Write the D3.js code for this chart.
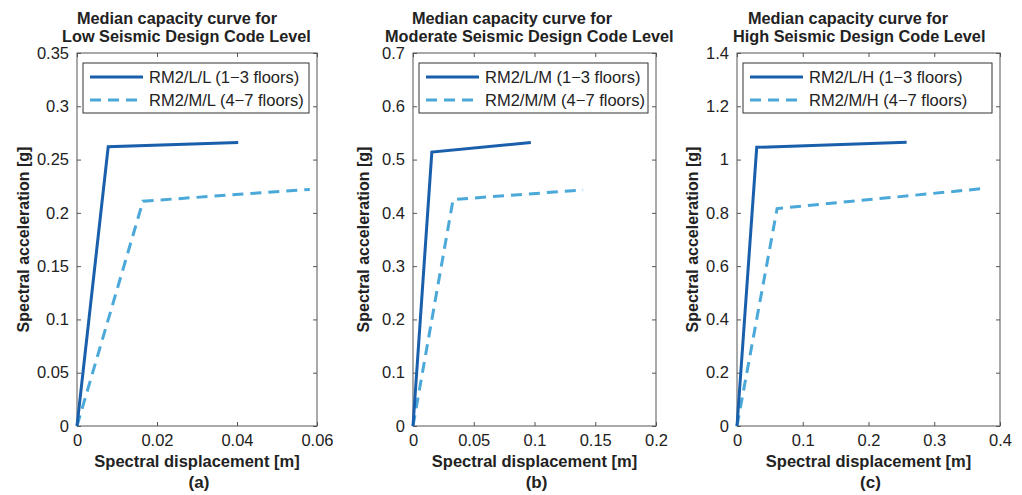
<!DOCTYPE html>
<html>
<head>
<meta charset="utf-8">
<script src="https://cdn.jsdelivr.net/npm/d3@7"></script>
<style>
  html, body { margin: 0; padding: 0; background: #fff; }
  svg { display: block; font-family: "Liberation Sans", Arial, sans-serif; }
</style>
</head>
<body>
<svg id="chart" width="1022" height="495"></svg>
<script>
// Median capacity curves (spectral displacement [m], spectral acceleration [g])
const panelTags = ["(a)", "(b)", "(c)"];
const titleFirstLine = "Median capacity curve for";
const titleSecondLines = [
  "Low Seismic Design Code Level",
  "Moderate Seismic Design Code Level",
  "High Seismic Design Code Level"
];
const xDomainMax = [0.06, 0.2, 0.4];
const yDomainMax = [0.35, 0.7, 1.4];
const xTickValues = [
  [0, 0.02, 0.04, 0.06],
  [0, 0.05, 0.1, 0.15, 0.2],
  [0, 0.1, 0.2, 0.3, 0.4]
];
const yTickValues = [
  [0, 0.05, 0.1, 0.15, 0.2, 0.25, 0.3, 0.35],
  [0, 0.1, 0.2, 0.3, 0.4, 0.5, 0.6, 0.7],
  [0, 0.2, 0.4, 0.6, 0.8, 1, 1.2, 1.4]
];
const lowRiseNames = ["RM2/L/L (1\u22123 floors)", "RM2/L/M (1\u22123 floors)", "RM2/L/H (1\u22123 floors)"];
const midRiseNames = ["RM2/M/L (4\u22127 floors)", "RM2/M/M (4\u22127 floors)", "RM2/M/H (4\u22127 floors)"];
// yield point and ultimate point of each bilinear curve
const lowRiseCurves = [
  [[0, 0], [0.0078, 0.262], [0.0403, 0.266]],
  [[0, 0], [0.0155, 0.514], [0.097, 0.532]],
  [[0, 0], [0.030, 1.046], [0.258, 1.065]]
];
const midRiseCurves = [
  [[0, 0], [0.0165, 0.211], [0.0582, 0.222]],
  [[0, 0], [0.033, 0.425], [0.140, 0.443]],
  [[0, 0], [0.061, 0.816], [0.373, 0.891]]
];

const svg = d3.select("#chart");
const solidColor = "#1a5fab";
const dashColor = "#4aa9d9";
const axisColor = "#555";
const textColor = "#222";

// plot boxes for the three panels
const boxes = [
  { left: 77, right: 317, t1x: 77, t2x: 62, ylab: 29 },
  { left: 413, right: 656, t1x: 412, t2x: 385, ylab: 369 },
  { left: 737, right: 1000, t1x: 748, t2x: 733, ylab: 698 }
];
const plotTop = 53, plotBottom = 426;
const fmt = d => String(+d.toFixed(4));

boxes.forEach((b, i) => {
  const g = svg.append("g");
  const x = d3.scaleLinear().domain([0, xDomainMax[i]]).range([b.left, b.right]);
  const y = d3.scaleLinear().domain([0, yDomainMax[i]]).range([plotBottom, plotTop]);
  const w = b.right - b.left, h = plotBottom - plotTop;

  // frame
  g.append("rect")
    .attr("x", b.left).attr("y", plotTop).attr("width", w).attr("height", h)
    .attr("fill", "#fff").attr("stroke", axisColor).attr("stroke-width", 1);

  // ticks on all four sides, pointing inward
  const tickLen = 4;
  const axisStyle = sel => {
    sel.select(".domain").remove();
    sel.selectAll(".tick line").attr("stroke", axisColor);
    sel.selectAll(".tick text")
      .attr("fill", textColor).attr("font-size", 16.5);
  };
  g.append("g").attr("transform", `translate(0,${plotBottom})`)
    .call(d3.axisBottom(x).tickValues(xTickValues[i]).tickFormat(fmt)
      .tickSizeInner(-tickLen).tickSizeOuter(0).tickPadding(8))
    .call(axisStyle);
  g.append("g").attr("transform", `translate(0,${plotTop})`)
    .call(d3.axisTop(x).tickValues(xTickValues[i]).tickFormat("")
      .tickSizeInner(-tickLen).tickSizeOuter(0))
    .call(axisStyle);
  g.append("g").attr("transform", `translate(${b.left},0)`)
    .call(d3.axisLeft(y).tickValues(yTickValues[i]).tickFormat(fmt)
      .tickSizeInner(-tickLen).tickSizeOuter(0).tickPadding(8))
    .call(axisStyle);
  g.append("g").attr("transform", `translate(${b.right},0)`)
    .call(d3.axisRight(y).tickValues(yTickValues[i]).tickFormat("")
      .tickSizeInner(-tickLen).tickSizeOuter(0))
    .call(axisStyle);

  // capacity curves
  const line = d3.line().x(d => x(d[0])).y(d => y(d[1]));
  g.append("path").datum(midRiseCurves[i])
    .attr("d", line).attr("fill", "none")
    .attr("stroke", dashColor).attr("stroke-width", 3)
    .attr("stroke-dasharray", "11,7");
  g.append("path").datum(lowRiseCurves[i])
    .attr("d", line).attr("fill", "none")
    .attr("stroke", solidColor).attr("stroke-width", 3)
    .attr("stroke-linejoin", "miter");

  // legend
  const lg = g.append("g");
  lg.append("rect")
    .attr("x", b.left + 6).attr("y", plotTop + 10)
    .attr("width", w - 14).attr("height", 50)
    .attr("fill", "#fff").attr("stroke", "#333").attr("stroke-width", 1);
  const rows = [
    { name: lowRiseNames[i], color: solidColor, dash: null, yy: plotTop + 24 },
    { name: midRiseNames[i], color: dashColor, dash: "11,7", yy: plotTop + 47 }
  ];
  rows.forEach(r => {
    lg.append("line")
      .attr("x1", b.left + 13).attr("x2", b.left + 66)
      .attr("y1", r.yy).attr("y2", r.yy)
      .attr("stroke", r.color).attr("stroke-width", 3)
      .attr("stroke-dasharray", r.dash);
    lg.append("text")
      .attr("x", b.left + 72).attr("y", r.yy + 6)
      .attr("font-size", 16.5).attr("fill", textColor)
      .text(r.name);
  });

  // titles and labels
  g.append("text").attr("x", b.t1x).attr("y", 23.5)
    .attr("font-size", 16.3).attr("font-weight", "bold").attr("fill", textColor)
    .text(titleFirstLine);
  g.append("text").attr("x", b.t2x).attr("y", 42)
    .attr("font-size", 16.3).attr("font-weight", "bold").attr("fill", textColor)
    .text(titleSecondLines[i]);
  g.append("text")
    .attr("transform", `translate(${b.ylab},${(plotTop + plotBottom) / 2}) rotate(-90)`)
    .attr("text-anchor", "middle")
    .attr("font-size", 16).attr("font-weight", "bold").attr("fill", textColor)
    .text("Spectral acceleration [g]");
  g.append("text")
    .attr("x", (b.left + b.right) / 2).attr("y", 467)
    .attr("text-anchor", "middle")
    .attr("font-size", 16.5).attr("font-weight", "bold").attr("fill", textColor)
    .text("Spectral displacement [m]");
  g.append("text")
    .attr("x", (b.left + b.right) / 2 + 2).attr("y", 488)
    .attr("text-anchor", "middle")
    .attr("font-size", 17).attr("font-weight", "bold").attr("fill", textColor)
    .text(panelTags[i]);
});
</script>
</body>
</html>
